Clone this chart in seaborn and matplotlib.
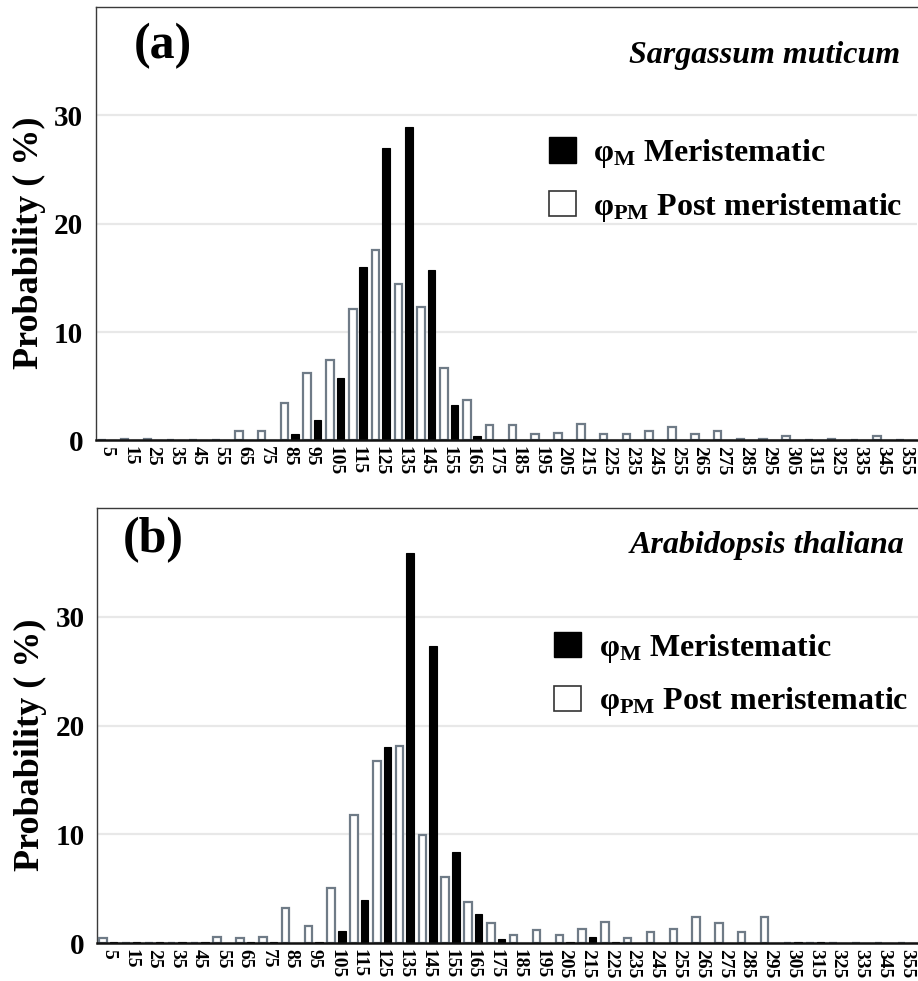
import numpy as np
import pandas as pd
import matplotlib
matplotlib.use("Agg")
import matplotlib.pyplot as plt
import seaborn as sns
from matplotlib.patches import Patch

# classes d'angle (centres, degrés)
angles = [str(a) for a in range(5, 360, 10)]

# (a) Sargassum muticum
sarg_meri = [0, 0, 0, 0, 0, 0, 0, 0, 0.6, 1.9, 5.8, 16.0, 27.0, 28.9, 15.7, 3.3, 0.4, 0,
             0, 0, 0, 0, 0, 0, 0, 0, 0, 0, 0, 0, 0, 0, 0, 0, 0, 0]
sarg_post = [0, 0.1, 0.1, 0, 0, 0, 0.9, 0.9, 3.5, 6.2, 7.4, 12.1, 17.6, 14.4, 12.3, 6.7, 3.7, 1.4,
             1.4, 0.6, 0.7, 1.5, 0.6, 0.6, 0.9, 1.2, 0.6, 0.9, 0.1, 0.1, 0.4, 0, 0.1, 0, 0.4, 0]

# (b) Arabidopsis thaliana
arab_meri = [0.1, 0.05, 0.05, 0.05, 0.1, 0, 0.1, 0.1, 0, 0.1, 1.1, 4.0, 18.0, 35.9, 27.3, 8.4, 2.7, 0.4,
             0, 0, 0.1, 0.6, 0.1, 0, 0, 0, 0, 0, 0, 0, 0.1, 0.1, 0, 0, 0, 0]
arab_post = [0.5, 0, 0, 0, 0, 0.6, 0.5, 0.6, 3.2, 1.6, 5.1, 11.8, 16.7, 18.1, 9.9, 6.1, 3.8, 1.8,
             0.7, 1.2, 0.7, 1.3, 1.9, 0.5, 1.0, 1.3, 2.4, 1.8, 1.0, 2.4, 0, 0, 0, 0, 0, 0]

species = ["Sargassum muticum", "Arabidopsis thaliana"]
panel_tags = ["(a)", "(b)"]

lab_meri = r"φ$_{\mathbf{M}}$ Meristematic"
lab_post = r"φ$_{\mathbf{PM}}$ Post meristematic"

sns.set_theme(style="white")
plt.rcParams["font.family"] = ["Liberation Serif", "DejaVu Serif"]
plt.rcParams["font.weight"] = "bold"
plt.rcParams["mathtext.fontset"] = "custom"
plt.rcParams["mathtext.rm"] = "Liberation Serif"
plt.rcParams["mathtext.bf"] = "Liberation Serif:bold"
plt.rcParams["mathtext.it"] = "Liberation Serif:italic"
for cle in ["text.color", "axes.labelcolor", "xtick.color", "ytick.color"]:
    plt.rcParams[cle] = "black"

fig = plt.figure(figsize=(9.18, 9.81), dpi=100)
ax_a = fig.add_axes([0.1043, 0.551, 0.8943, 0.4419])
ax_b = fig.add_axes([0.1057, 0.0387, 0.8943, 0.4434])

donnees = [(sarg_meri, sarg_post), (arab_meri, arab_post)]

for k, (ax, (meri, post)) in enumerate(zip([ax_a, ax_b], donnees)):
    df = pd.DataFrame({
        "angle": angles * 2,
        "prob": post + meri,
        "type": ["post"] * len(angles) + ["meri"] * len(angles),
    })
    sns.barplot(data=df, x="angle", y="prob", hue="type", order=angles,
                hue_order=["post", "meri"], palette={"post": "white", "meri": "black"},
                width=0.92, gap=0.28, ax=ax, legend=False, zorder=3)
    for bar in ax.containers[0]:
        bar.set_edgecolor("#6f7b87")
        bar.set_linewidth(1.6)
    for bar in ax.containers[1]:
        bar.set_edgecolor("black")
        bar.set_linewidth(0.8)

    ax.set_xlim(-0.5, len(angles) - 0.5)
    ax.set_ylim(0, 40)
    ax.set_yticks([0, 10, 20, 30])
    ax.set_xticks(range(len(angles)), angles, rotation=-90, fontsize=14,
                  fontweight="bold", color="black")
    ax.yaxis.grid(True, color="#e8e8e8", lw=1.6, zorder=0)
    ax.xaxis.grid(False)
    ax.set_xlabel("")
    ax.set_ylabel("Probability ( %)", fontsize=26, fontweight="bold", color="black")
    ax.yaxis.set_label_coords(-0.061, 0.457)
    ax.tick_params(axis="y", length=0, pad=9, labelsize=21, labelcolor="black")
    ax.tick_params(axis="x", length=0, pad=4, labelcolor="black")
    for t in ax.get_yticklabels():
        t.set_fontweight("bold")

    for side in ["top", "left"]:
        ax.spines[side].set_color("#3a3a3a")
        ax.spines[side].set_linewidth(1.0)
    ax.spines["right"].set_visible(False)
    ax.spines["bottom"].set_color("#111111")
    ax.spines["bottom"].set_linewidth(1.8)
    ax.spines["bottom"].set_zorder(5)

    tag_x = [0.082, 0.068][k]
    tag_y = [0.91, 0.926][k]
    ax.text(tag_x, tag_y, panel_tags[k], transform=ax.transAxes, fontsize=36,
            fontweight="bold", ha="center", va="center", color="black")
    sp_x = [0.98, 0.984][k]
    sp_y = [0.871, 0.897][k]
    ax.text(sp_x, sp_y, species[k], transform=ax.transAxes, fontsize=23,
            fontweight="bold", style="italic", ha="right", va="baseline", color="black")

    poignees = [Patch(facecolor="black", edgecolor="black", lw=1.0),
                Patch(facecolor="white", edgecolor="#333333", lw=1.2)]
    leg_x = [0.552, 0.557][k]
    leg_y = [0.70, 0.716][k]
    leg = ax.legend(poignees, [lab_meri, lab_post], loc="upper left",
                    bbox_to_anchor=(leg_x, leg_y), frameon=False,
                    handlelength=0.84, handleheight=0.84, handletextpad=0.55,
                    labelspacing=0.65, borderpad=0, borderaxespad=0,
                    prop={"weight": "bold", "size": 23})
    for t in leg.get_texts():
        t.set_color("black")

fig.savefig("out.png", dpi=100)
